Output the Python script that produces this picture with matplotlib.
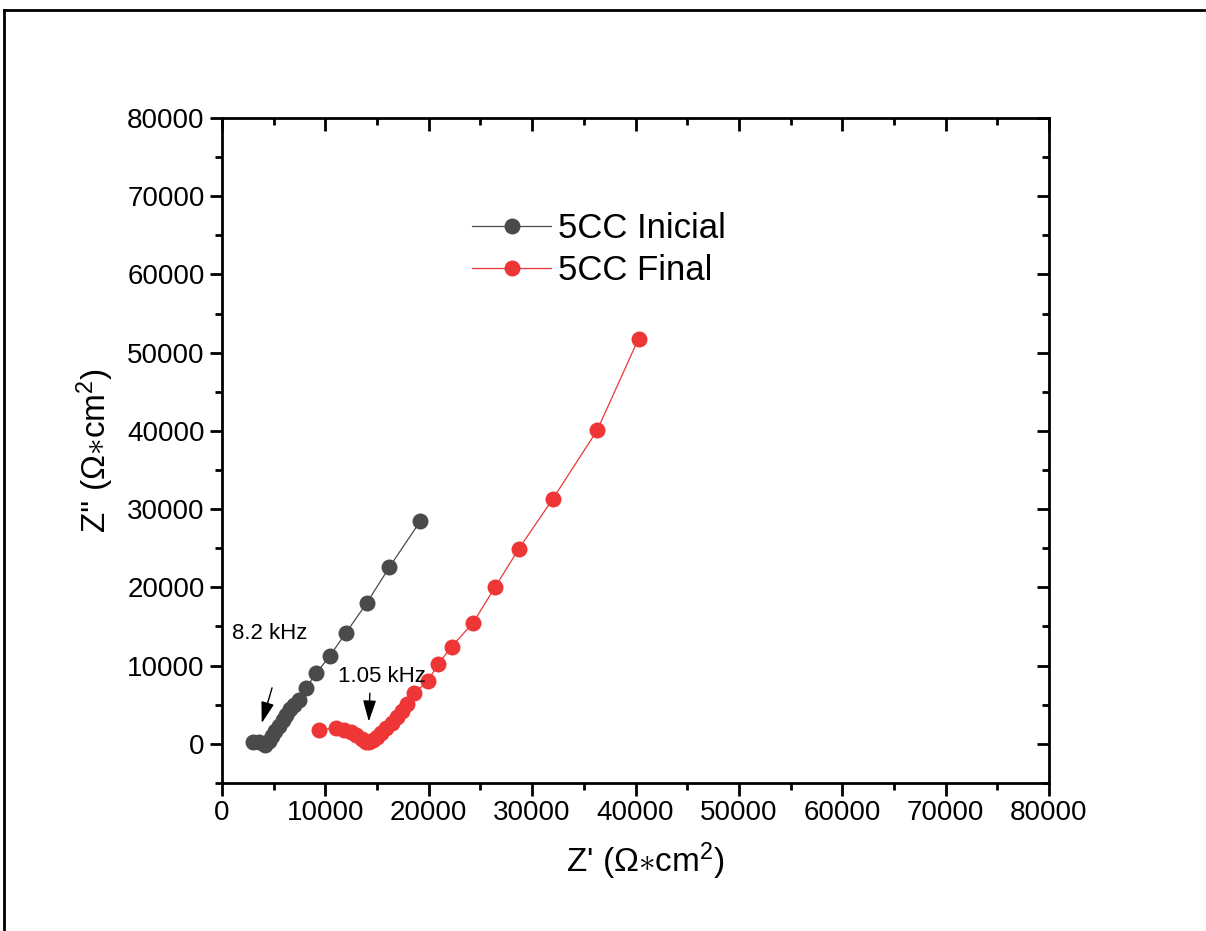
"""Nyquist plot of 5CC coating impedance, initial vs final."""

import matplotlib
matplotlib.use("Agg")
import matplotlib.pyplot as plt
from matplotlib.lines import Line2D
from matplotlib.ticker import MultipleLocator

plt.rcParams["font.family"] = ["Liberation Sans", "DejaVu Sans"]
plt.rcParams["mathtext.fontset"] = "custom"
plt.rcParams["mathtext.rm"] = "Liberation Sans"
plt.rcParams["mathtext.it"] = "Liberation Sans:italic"

# Data (Ohm*cm2)
inicial_zre = [3000, 3600, 4200, 4500, 4800, 5100, 5500, 5900, 6200, 6600, 7000,
               7400, 8100, 9100, 10400, 12000, 14000, 16200, 19200]
inicial_zim = [200, 300, -100, 400, 1000, 1600, 2300, 3000, 3700, 4400, 5000,
               5600, 7100, 9000, 11200, 14200, 18000, 22600, 28500]

final_zre = [9400, 11000, 11800, 12500, 13000, 13500, 13900, 14200, 14600, 15000,
             15400, 15900, 16400, 16900, 17400, 17900, 18600, 19900, 20900, 22200,
             24300, 26400, 28700, 32000, 36300, 40300]
final_zim = [1800, 2000, 1800, 1500, 1100, 600, 300, 250, 500, 900, 1400, 2000,
             2700, 3400, 4200, 5100, 6500, 8000, 10200, 12400, 15500, 20000, 24900,
             31300, 40100, 51800]

fig = plt.figure(figsize=(12.06, 9.31), dpi=100)
ax = fig.add_axes([0.1841, 0.159, 0.6857, 0.7143])

ax.plot(inicial_zre, inicial_zim, "-o", color="#4a4a4a", lw=0.9, ms=11.5,
        mec="none", label="5CC Inicial")
ax.plot(final_zre, final_zim, "-o", color="#ee3636", lw=0.9, ms=11.5,
        mec="none", label="5CC Final")

ax.set_xlim(0, 80000)
ax.set_ylim(-5000, 80000)
ax.xaxis.set_major_locator(MultipleLocator(10000))
ax.xaxis.set_minor_locator(MultipleLocator(5000))
ax.yaxis.set_major_locator(MultipleLocator(10000))
ax.yaxis.set_minor_locator(MultipleLocator(5000))

for s in ax.spines.values():
    s.set_linewidth(2.0)
ax.tick_params(which="both", direction="out", width=2.0, labelsize=20,
               top=False, right=False)
ax.tick_params(which="major", length=9)
ax.tick_params(which="minor", length=5)

# inward ticks on top and right without labels
ax2 = ax.secondary_xaxis("top")
ax2.xaxis.set_major_locator(MultipleLocator(10000))
ax2.xaxis.set_minor_locator(MultipleLocator(5000))
ax2.tick_params(which="both", direction="in", width=2.0, labeltop=False)
ax2.tick_params(which="major", length=9)
ax2.tick_params(which="minor", length=5)
ax3 = ax.secondary_yaxis("right")
ax3.yaxis.set_major_locator(MultipleLocator(10000))
ax3.yaxis.set_minor_locator(MultipleLocator(5000))
ax3.tick_params(which="both", direction="in", width=2.0, labelright=False)
ax3.tick_params(which="major", length=9)
ax3.tick_params(which="minor", length=5)

ax.set_xlabel(r"Z' ($\Omega{\ast}$cm$^2$)", fontsize=24, labelpad=10)
ax.xaxis.label.set_x(0.512)
ax.set_ylabel(r"Z'' ($\Omega{\ast}$cm$^2$)", fontsize=24, labelpad=8)

# frequency annotations
arrow = dict(arrowstyle="-|>,head_length=1.3,head_width=0.4", color="black",
             lw=1.0, shrinkA=0, shrinkB=0)
ax.annotate("", xy=(3840, 2650), xytext=(4840, 7160), arrowprops=arrow)
ax.text(4640, 14060, "8.2 kHz", fontsize=16, ha="center", va="center")
ax.annotate("", xy=(14200, 2850), xytext=(14300, 6480), arrowprops=arrow)
ax.text(15500, 8560, "1.05 kHz", fontsize=16, ha="center", va="center")

ax.legend(loc="upper left", bbox_to_anchor=(0.285, 0.879), frameon=False,
          fontsize=25, handlelength=2.3, handletextpad=0.2, labelspacing=0.25,
          borderaxespad=0)

# partial frame around the figure (left and top edges)
fig.add_artist(Line2D([0.003, 0.003], [0, 0.989], color="black", lw=2.0,
                      transform=fig.transFigure))
fig.add_artist(Line2D([0.003, 1.0], [0.989, 0.989], color="black", lw=2.0,
                      transform=fig.transFigure))

fig.savefig("out.png", dpi=100)
